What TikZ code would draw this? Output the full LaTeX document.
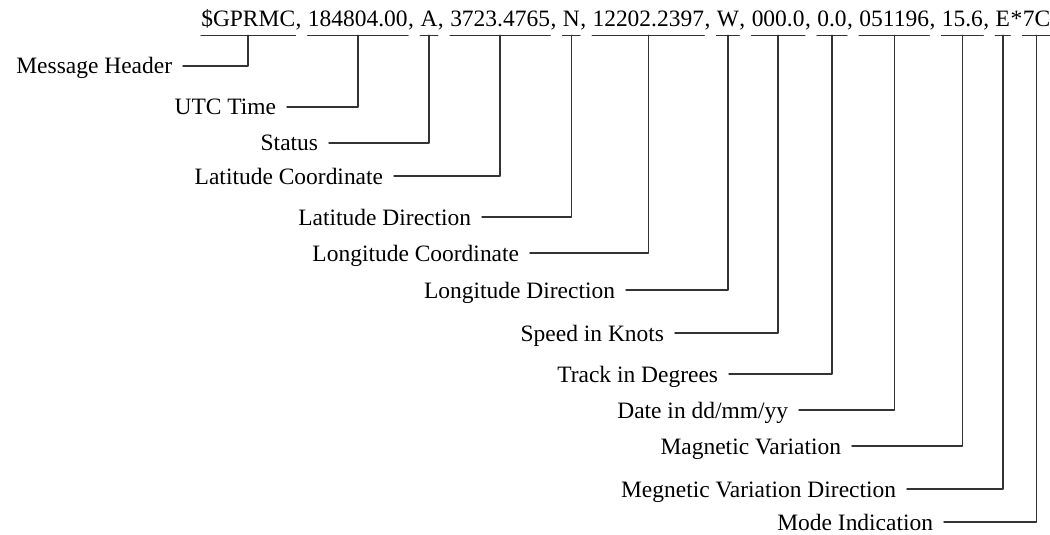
\documentclass[tikz,border=0pt]{standalone}
\usepackage{fontspec}
\setmainfont{Liberation Serif}
\usepackage{xcolor}
\usepackage{tikz}

\begin{document}
\begin{tikzpicture}[x=0.75pt,y=-0.75pt,line cap=round,line join=round]
\tikzset{
    wire/.style={draw=black!80, line width=1.1pt},
    field/.style={anchor=base west, inner xsep=0pt, inner ysep=6pt, text depth=0pt, font=\fontsize{17.6}{20}\selectfont},
    sep/.style={anchor=base west, inner sep=0pt, font=\fontsize{17.6}{20}\selectfont},
    lbl/.style={anchor=east, inner xsep=8pt, inner ysep=0pt, text height=12pt, text depth=0pt, font=\fontsize{17.6}{20}\selectfont},
}
\useasboundingbox (0,0) rectangle (1050,535);
\node[field] (gprmc) at (201,27) {\$GPRMC};
\node[sep] (s1) at (gprmc.base east) {,\kern0.25em};
\node[field] (utc) at (s1.base east) {184804.00};
\node[sep] (s2) at (utc.base east) {,\kern0.25em};
\node[field] (status) at (s2.base east) {A};
\node[sep] (s3) at (status.base east) {,\kern0.25em};
\node[field] (lat) at (s3.base east) {3723.4765};
\node[sep] (s4) at (lat.base east) {,\kern0.25em};
\node[field] (latdir) at (s4.base east) {N};
\node[sep] (s5) at (latdir.base east) {,\kern0.25em};
\node[field] (lon) at (s5.base east) {12202.2397};
\node[sep] (s6) at (lon.base east) {,\kern0.25em};
\node[field] (londir) at (s6.base east) {W};
\node[sep] (s7) at (londir.base east) {,\kern0.25em};
\node[field] (speed) at (s7.base east) {000.0};
\node[sep] (s8) at (speed.base east) {,\kern0.25em};
\node[field] (track) at (s8.base east) {0.0};
\node[sep] (s9) at (track.base east) {,\kern0.25em};
\node[field] (date) at (s9.base east) {051196};
\node[sep] (s10) at (date.base east) {,\kern0.25em};
\node[field] (magvar) at (s10.base east) {15.6};
\node[sep] (s11) at (magvar.base east) {,\kern0.25em};
\node[field] (magdir) at (s11.base east) {E};
\node[sep] (s12) at (magdir.base east) {*};
\node[field] (mode) at (s12.base east) {7C};
\draw[wire] (gprmc.south west) -- (gprmc.south east);
\draw[wire] (utc.south west) -- (utc.south east);
\draw[wire] (status.south west) -- (status.south east);
\draw[wire] (lat.south west) -- (lat.south east);
\draw[wire] (latdir.south west) -- (latdir.south east);
\draw[wire] (lon.south west) -- (lon.south east);
\draw[wire] (londir.south west) -- (londir.south east);
\draw[wire] (speed.south west) -- (speed.south east);
\draw[wire] (track.south west) -- (track.south east);
\draw[wire] (date.south west) -- (date.south east);
\draw[wire] (magvar.south west) -- (magvar.south east);
\draw[wire] (magdir.south west) -- (magdir.south east);
\draw[wire] (mode.south west) -- (mode.south east);
\node[lbl] (gprmclbl) at (183,66) {Message Header};
\node[lbl] (utclbl) at (287,107) {UTC Time};
\node[lbl] (statuslbl) at (329,143) {Status};
\node[lbl] (latlbl) at (394,176) {Latitude Coordinate};
\node[lbl] (latdirlbl) at (482,217) {Latitude Direction};
\node[lbl] (lonlbl) at (530,253) {Longitude Coordinate};
\node[lbl] (londirlbl) at (626,290) {Longitude Direction};
\node[lbl] (speedlbl) at (675,333) {Speed in Knots};
\node[lbl] (tracklbl) at (729,374) {Track in Degrees};
\node[lbl] (datelbl) at (799,410) {Date in dd/mm/yy};
\node[lbl] (magvarlbl) at (852,446) {Magnetic Variation};
\node[lbl] (magdirlbl) at (907,489) {Megnetic Variation Direction};
\node[lbl] (modelbl) at (944,522) {Mode Indication};
\draw[wire] (gprmclbl.east) -| (gprmc.south);
\draw[wire] (utclbl.east) -| (utc.south);
\draw[wire] (statuslbl.east) -| (status.south);
\draw[wire] (latlbl.east) -| (lat.south);
\draw[wire] (latdirlbl.east) -| (latdir.south);
\draw[wire] (lonlbl.east) -| (lon.south);
\draw[wire] (londirlbl.east) -| (londir.south);
\draw[wire] (speedlbl.east) -| (speed.south);
\draw[wire] (tracklbl.east) -| (track.south);
\draw[wire] (datelbl.east) -| (date.south);
\draw[wire] (magvarlbl.east) -| (magvar.south);
\draw[wire] (magdirlbl.east) -| (magdir.south);
\draw[wire] (modelbl.east) -| (mode.south);
\end{tikzpicture}
\end{document}
